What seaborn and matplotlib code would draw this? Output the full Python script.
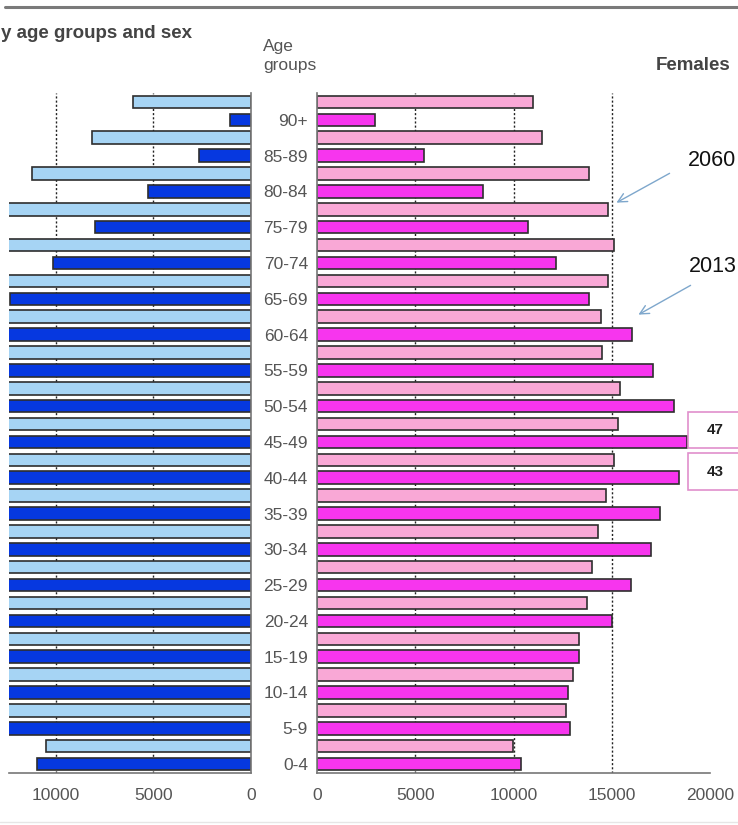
import numpy as np
import pandas as pd
import matplotlib
matplotlib.use("Agg")
import matplotlib.pyplot as plt
from matplotlib.patches import Rectangle, FancyArrowPatch
from matplotlib.lines import Line2D
import seaborn as sns

# Age groups, oldest at the top
ages = ["90+", "85-89", "80-84", "75-79", "70-74", "65-69", "60-64", "55-59",
        "50-54", "45-49", "40-44", "35-39", "30-34", "25-29", "20-24",
        "15-19", "10-14", "5-9", "0-4"]

# Males (many bars run past the cropped left edge, values estimated)
males_2060 = [6030, 8140, 11220, 12800, 14600, 14600, 14500, 14700, 15700,
              15800, 15700, 15300, 14900, 14700, 14400, 14000, 13700, 13300, 10540]
males_2013 = [1060, 2660, 5290, 8000, 10140, 12380, 15500, 16800, 18300,
              19200, 18900, 18000, 17600, 16500, 15600, 13900, 13300, 13400, 11000]

# Females
females_2060 = [11000, 11460, 13820, 14790, 15120, 14790, 14430, 14510, 15430,
                15330, 15120, 14700, 14280, 14000, 13720, 13310, 13010, 12670, 9990]
females_2013 = [2950, 5440, 8430, 10750, 12160, 13820, 16040, 17110, 18160,
                18850, 18430, 17460, 17020, 15970, 14990, 13340, 12780, 12890, 10380]

years = ["2060", "2013"]
male_colors = ["#a6d4f4", "#0638e0"]
female_colors = ["#f9a8d6", "#f735ee"]

df = pd.DataFrame({
    "age": ages * 2,
    "year": ["2060"] * len(ages) + ["2013"] * len(ages),
    "male": males_2060 + males_2013,
    "female": females_2060 + females_2013,
})

sns.set_style("white")
plt.rcParams["font.family"] = ["Liberation Sans", "DejaVu Sans"]

W, H = 738, 825
fig = plt.figure(figsize=(W / 100, H / 100), dpi=100)

ax_top = 93
ax_bot = 773
ax_l = fig.add_axes([9 / W, (H - ax_bot) / H, (250.7 - 9) / W, (ax_bot - ax_top) / H])
ax_r = fig.add_axes([317 / W, (H - ax_bot) / H, 393 / W, (ax_bot - ax_top) / H])

bar_kw = dict(y="age", hue="year", order=ages, hue_order=years, orient="h",
              width=1.0, gap=0.3, edgecolor="#2e2e2e", linewidth=1.2,
              saturation=1, errorbar=None, legend=False)
sns.barplot(data=df, x="male", palette=male_colors, ax=ax_l, **bar_kw)
sns.barplot(data=df, x="female", palette=female_colors, ax=ax_r, **bar_kw)

grid_style = dict(color="#222222", linestyle=(0, (1.5, 1.5)), linewidth=1.0, zorder=0)
for ax, xlim, ticks, grid in [
    (ax_l, (12420, 0), [10000, 5000, 0], [5000, 10000]),
    (ax_r, (0, 20000), [0, 5000, 10000, 15000, 20000], [5000, 10000, 15000]),
]:
    ax.set_xlim(*xlim)
    ax.set_ylim(len(ages) - 0.5, -0.5)
    ax.set_xticks(ticks)
    ax.set_xticklabels([str(t) for t in ticks])
    for g in grid:
        ax.axvline(g, **grid_style)
    ax.set_axisbelow(True)
    ax.set_xlabel("")
    ax.set_ylabel("")
    for s in ax.spines.values():
        s.set_visible(False)
    ax.spines["bottom"].set_visible(True)
    ax.spines["bottom"].set_color("#777777")
    ax.spines["bottom"].set_linewidth(1.2)
    ax.tick_params(axis="x", direction="inout", length=6, width=1.2, color="#666666",
                   labelsize=12.5, labelcolor="#555555", pad=8)

ax_l.spines["right"].set_visible(True)
ax_l.spines["right"].set_color("#777777")
ax_l.spines["right"].set_linewidth(1.2)
ax_l.set_yticks([])

ax_r.spines["left"].set_visible(True)
ax_r.spines["left"].set_color("#777777")
ax_r.spines["left"].set_linewidth(1.2)
ax_r.set_yticks(np.arange(len(ages)) + 0.25)
ax_r.set_yticklabels(ages)
ax_r.tick_params(axis="y", length=0, pad=6.5, labelsize=12.5, labelcolor="#555555")


def fx(px):
    return px / W


def fy(py):
    return 1 - py / H


# header texts
fig.text(fx(1), fy(33), "y age groups and sex", ha="left", va="center",
         fontsize=13.5, fontweight="bold", color="#444444")
fig.text(fx(263), fy(56), "Age\ngroups", ha="left", va="center",
         fontsize=12.5, color="#555555", linespacing=1.35)
fig.text(fx(693), fy(65), "Females", ha="center", va="center",
         fontsize=13.5, fontweight="bold", color="#444444")

# year labels with arrows
fig.text(fx(688), fy(161), "2060", ha="left", va="center", fontsize=15.5, color="#111111")
fig.text(fx(689), fy(267), "2013", ha="left", va="center", fontsize=15.5, color="#111111")
for (x0, y0), (x1, y1) in [((672, 172), (614, 204)), ((693, 284), (636, 316))]:
    fig.add_artist(FancyArrowPatch((fx(x0), fy(y0)), (fx(x1), fy(y1)),
                                   transform=fig.transFigure, arrowstyle="->",
                                   mutation_scale=16, color="#7ea7cc", lw=1.0))

# boxed numbers on the right edge
for label, top, bot in [("47", 412, 448), ("43", 453, 490)]:
    fig.add_artist(Rectangle((fx(688), fy(bot)), fx(70), (bot - top) / H,
                             transform=fig.transFigure, facecolor="white",
                             edgecolor="#e08fcc", linewidth=1.2))
    fig.text(fx(715), fy((top + bot) / 2), label, ha="center", va="center",
             fontsize=11, fontweight="bold", color="#222222")

# frame lines
fig.add_artist(Line2D([fx(5), 1], [fy(7), fy(7)], color="#7a7a7a", linewidth=2.2,
                      transform=fig.transFigure))
fig.add_artist(Line2D([0, 1], [fy(822), fy(822)], color="#e6e6e6", linewidth=1.0,
                      transform=fig.transFigure))

fig.savefig("out.png", dpi=100)
